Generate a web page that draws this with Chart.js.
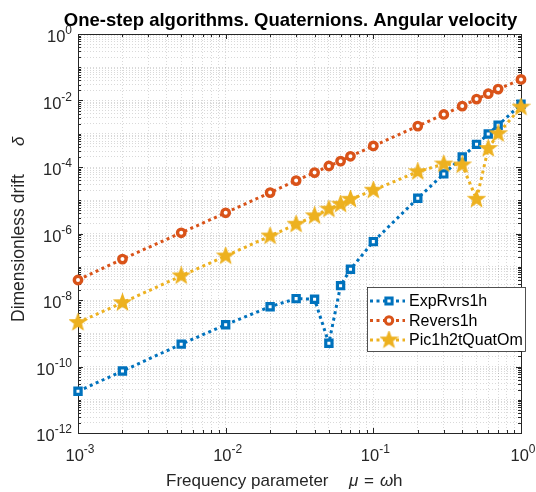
<!DOCTYPE html>
<html>
<head>
<meta charset="utf-8">
<script src="https://cdn.jsdelivr.net/npm/chart.js@4/dist/chart.umd.min.js"></script>
<style>
  body { margin: 0; background: #fff; }
  canvas { display: block; }
</style>
</head>
<body>
<canvas id="driftChart" width="536" height="492"></canvas>
<script>
// frequency parameter mu = omega*h
const mu = [0.001, 0.002, 0.005, 0.01, 0.02, 0.03, 0.04, 0.05, 0.06, 0.07, 0.1, 0.2, 0.3, 0.4, 0.5, 0.6, 0.7, 1];

// dimensionless drift for each algorithm
const expRvrs1h = [1.8e-11, 7.3e-11, 4.7e-10, 1.8e-9, 6.3e-9, 1.1e-8, 1.05e-8, 5e-10, 2.7e-8, 8.4e-8, 5.7e-7, 1.15e-5, 6.2e-5, 2.0e-4, 4.8e-4, 9.8e-4, 1.8e-3, 7.7e-3];
const revers1h = [4e-8, 1.7e-7, 1.05e-6, 4.2e-6, 1.7e-5, 3.9e-5, 6.8e-5, 1.07e-4, 1.5e-4, 2.1e-4, 4.3e-4, 1.7e-3, 3.8e-3, 6.8e-3, 1.1e-2, 1.6e-2, 2.2e-2, 4.3e-2];
const pic1h2tQuatOm = [2.1e-9, 8.3e-9, 5.3e-8, 2.1e-7, 8.4e-7, 1.9e-6, 3.4e-6, 5.4e-6, 7.6e-6, 1.07e-5, 2.0e-5, 7.2e-5, 1.23e-4, 1.15e-4, 1.07e-5, 3.6e-4, 1.0e-3, 6.3e-3];

const seriesNames = ['ExpRvrs1h', 'Revers1h', 'Pic1h2tQuatOm'];

// labelled powers of ten
const xTickExps = [-3, -2, -1, 0];
const yTickExps = [0, -2, -4, -6, -8, -10, -12];

const BLUE = '#0072BD', RED = '#D95319', YELLOW = '#EDB120';
const FONT = '"Liberation Sans", Arial, sans-serif';

// five-point star marker
function makeStar(size, color) {
    const c = document.createElement('canvas');
    c.width = size; c.height = size;
    const g = c.getContext('2d');
    const cx = size / 2, cy = size / 2, ro = size / 2 - 1, ri = ro * 0.42;
    g.beginPath();
    for (let i = 0; i < 10; i++) {
        const r = i % 2 ? ri : ro;
        const a = -Math.PI / 2 + i * Math.PI / 5;
        g.lineTo(cx + r * Math.cos(a), cy + r * Math.sin(a));
    }
    g.closePath();
    g.fillStyle = color;
    g.strokeStyle = color;
    g.lineWidth = 1.2;
    g.lineJoin = 'miter';
    g.fill();
    g.stroke();
    return c;
}
const starImg = makeStar(19, YELLOW);

function logTicks(e0, e1) {
    const out = [];
    for (let e = e0; e < e1; e++) {
        for (let m = 1; m < 10; m++) out.push(m * Math.pow(10, e));
    }
    out.push(Math.pow(10, e1));
    return out;
}

function isDecade(v) {
    const l = Math.log10(v);
    return Math.abs(l - Math.round(l)) < 1e-9;
}

function points(ys) {
    return mu.map((x, i) => ({ x: x, y: ys[i] }));
}

// axes box with inward ticks on all four sides (drawn under the data)
const axesBox = {
    id: 'axesBox',
    beforeDatasetsDraw(chart) {
        const ctx = chart.ctx, a = chart.chartArea;
        const xs = chart.scales.x, ys = chart.scales.y;
        ctx.save();
        ctx.strokeStyle = '#262626';
        ctx.lineWidth = 1;
        ctx.beginPath();
        xs.ticks.forEach(t => {
            const px = Math.round(xs.getPixelForValue(t.value)) + 0.5;
            const len = isDecade(t.value) ? 5 : 3;
            ctx.moveTo(px, a.bottom); ctx.lineTo(px, a.bottom - len);
            ctx.moveTo(px, a.top); ctx.lineTo(px, a.top + len);
        });
        ys.ticks.forEach(t => {
            const py = Math.round(ys.getPixelForValue(t.value)) + 0.5;
            const e = Math.round(Math.log10(t.value));
            const len = isDecade(t.value) && e % 2 === 0 ? 5 : 3;
            ctx.moveTo(a.left, py); ctx.lineTo(a.left + len, py);
            ctx.moveTo(a.right, py); ctx.lineTo(a.right - len, py);
        });
        ctx.stroke();
        ctx.strokeRect(Math.round(a.left) + 0.5, Math.round(a.top) + 0.5,
            Math.round(a.right - a.left), Math.round(a.bottom - a.top));
        ctx.restore();
    }
};

function drawPow(ctx, exp, x, y, align) {
    const base = '10', sup = String(exp);
    ctx.font = '16.5px ' + FONT;
    const wb = ctx.measureText(base).width;
    ctx.font = '12px ' + FONT;
    const ws = ctx.measureText(sup).width;
    let left = align === 'right' ? x - wb - ws : x - (wb + ws) / 2;
    ctx.textAlign = 'left';
    ctx.textBaseline = 'alphabetic';
    ctx.font = '16.5px ' + FONT;
    ctx.fillText(base, left, y);
    ctx.font = '12px ' + FONT;
    ctx.fillText(sup, left + wb, y - 8);
}

// tick labels, titles and the legend
const annotations = {
    id: 'annotations',
    afterDraw(chart) {
        const ctx = chart.ctx, a = chart.chartArea;
        const xs = chart.scales.x, ys = chart.scales.y;
        ctx.save();
        ctx.fillStyle = '#262626';

        xTickExps.forEach(e => {
            drawPow(ctx, e, xs.getPixelForValue(Math.pow(10, e)) + 2, 461, 'center');
        });
        yTickExps.forEach(e => {
            drawPow(ctx, e, a.left - 6, ys.getPixelForValue(Math.pow(10, e)) + 8, 'right');
        });

        // title
        ctx.fillStyle = '#000';
        ctx.font = 'bold 18.5px ' + FONT;
        ctx.textAlign = 'center';
        ctx.fillText('One-step algorithms. Quaternions. Angular velocity', (a.left + a.right) / 2 - 9, 26);

        // x axis label
        ctx.fillStyle = '#262626';
        ctx.font = '17px ' + FONT;
        ctx.textAlign = 'left';
        ctx.fillText('Frequency parameter', 166, 486);
        ctx.font = 'italic 17px ' + FONT;
        ctx.fillText('\u03bc', 349, 486);
        ctx.font = '17px ' + FONT;
        ctx.fillText('=', 364, 486);
        ctx.font = 'italic 17px ' + FONT;
        ctx.fillText('\u03c9', 380, 486);
        ctx.font = '17px ' + FONT;
        ctx.fillText('h', 393, 486);

        // y axis label
        ctx.save();
        ctx.translate(24, 0);
        ctx.rotate(-Math.PI / 2);
        ctx.font = '17.5px ' + FONT;
        ctx.textAlign = 'left';
        ctx.fillText('Dimensionless drift', -322, 0);
        ctx.font = 'italic 17px ' + FONT;
        ctx.fillText('\u03b4', -146, 0);
        ctx.restore();

        // legend
        const lx = 367, ly = 287, lw = 158, lh = 64;
        ctx.fillStyle = '#fff';
        ctx.fillRect(lx, ly, lw, lh);
        ctx.strokeStyle = '#262626';
        ctx.lineWidth = 0.8;
        ctx.strokeRect(lx + 0.5, ly + 0.5, lw, lh);
        chart.data.datasets.forEach((ds, i) => {
            const ry = ly + 14 + i * 19.5;
            ctx.strokeStyle = ds.borderColor;
            ctx.lineWidth = ds.borderWidth;
            ctx.setLineDash(ds.borderDash);
            ctx.beginPath();
            ctx.moveTo(370, ry); ctx.lineTo(405, ry);
            ctx.stroke();
            ctx.setLineDash([]);
            ctx.fillStyle = '#fff';
            Chart.helpers.drawPoint(ctx, {
                pointStyle: ds.pointStyle, radius: ds.pointRadius,
                borderWidth: ds.pointBorderWidth, rotation: 0
            }, 389, ry);
            ctx.fillStyle = '#000';
            ctx.font = '16px ' + FONT;
            ctx.textAlign = 'left';
            ctx.textBaseline = 'middle';
            ctx.fillText(seriesNames[i], 409, ry + 1);
        });
        ctx.restore();
    }
};

function series(i, ys, color, style, radius, bw, order) {
    return {
        label: seriesNames[i],
        data: points(ys),
        borderColor: color,
        backgroundColor: '#fff',
        borderWidth: 3,
        borderDash: [3, 3.5],
        pointStyle: style,
        pointRadius: radius,
        pointBorderWidth: bw,
        pointBackgroundColor: '#fff',
        pointBorderColor: color,
        tension: 0,
        clip: false,
        order: order
    };
}

const gridOpts = {
    color: 'rgba(0,0,0,0.15)',
    lineWidth: 1,
    drawTicks: false
};

new Chart(document.getElementById('driftChart'), {
    type: 'line',
    data: {
        datasets: [
            series(0, expRvrs1h, BLUE, 'rect', 4.4, 3.2, 3),
            series(1, revers1h, RED, 'circle', 3.7, 3.4, 2),
            series(2, pic1h2tQuatOm, YELLOW, starImg, 9, 0, 1)
        ]
    },
    options: {
        responsive: false,
        animation: false,
        layout: { padding: { top: 34, right: 15, left: 0, bottom: 0 } },
        plugins: {
            legend: { display: false },
            title: { display: false },
            tooltip: { enabled: false }
        },
        scales: {
            x: {
                type: 'logarithmic',
                min: 1e-3, max: 1,
                afterBuildTicks: s => { s.ticks = logTicks(-3, 0).map(v => ({ value: v })); },
                afterFit: s => { s.height = 59; },
                ticks: { display: false },
                grid: gridOpts,
                border: { display: false, dash: [1, 2] }
            },
            y: {
                type: 'logarithmic',
                min: 1e-12, max: 1,
                afterBuildTicks: s => { s.ticks = logTicks(-12, 0).map(v => ({ value: v })); },
                afterFit: s => { s.width = 78; },
                ticks: { display: false },
                grid: gridOpts,
                border: { display: false, dash: [1, 2] }
            }
        }
    },
    plugins: [axesBox, annotations]
});
</script>
</body>
</html>
